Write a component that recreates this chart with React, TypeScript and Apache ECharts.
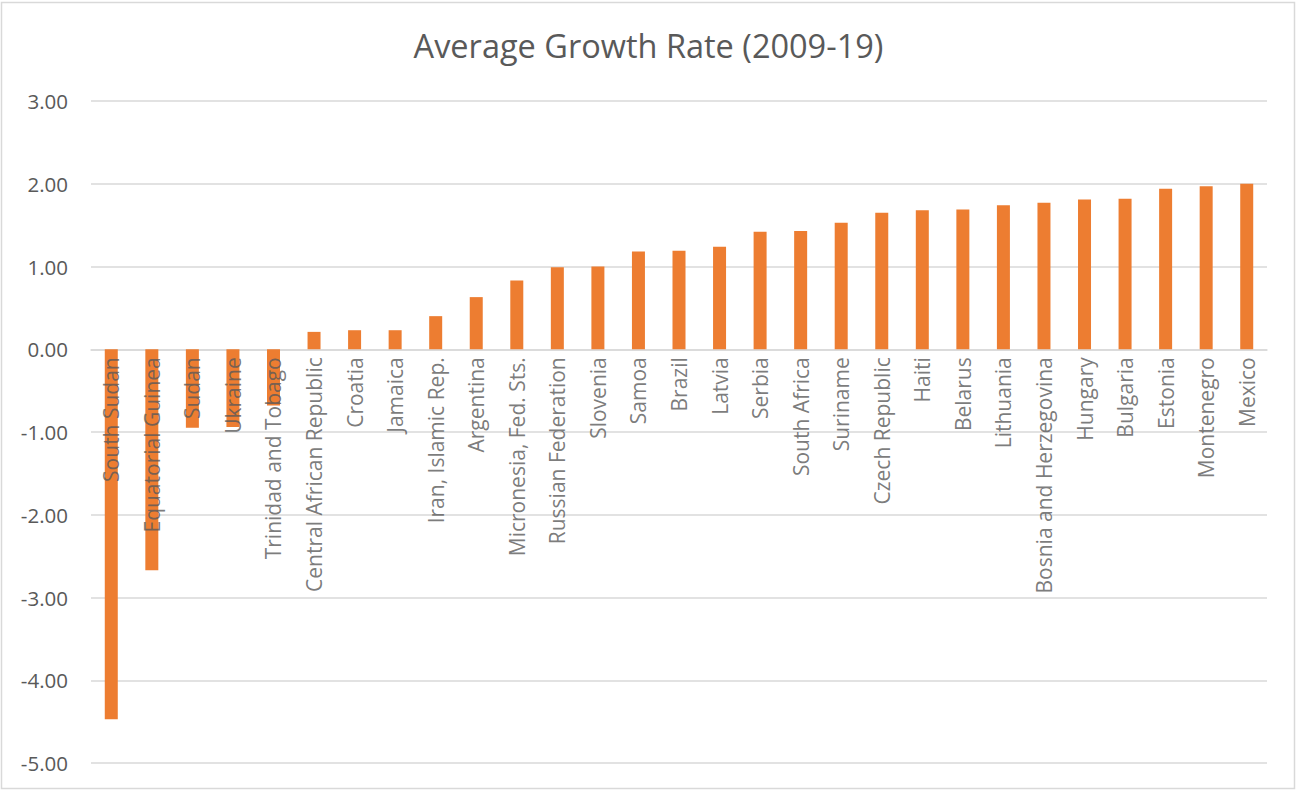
import React, { useEffect, useRef } from "react";
import * as echarts from "echarts";

const titleText = "Average Growth Rate (2009-19)";
const countries = [
  "South Sudan", "Equatorial Guinea", "Sudan", "Ukraine", "Trinidad and Tobago",
  "Central African Republic", "Croatia", "Jamaica", "Iran, Islamic Rep.", "Argentina",
  "Micronesia, Fed. Sts.", "Russian Federation", "Slovenia", "Samoa", "Brazil",
  "Latvia", "Serbia", "South Africa", "Suriname", "Czech Republic",
  "Haiti", "Belarus", "Lithuania", "Bosnia and Herzegovina", "Hungary",
  "Bulgaria", "Estonia", "Montenegro", "Mexico",
];
const growthRates = [
  -4.47, -2.67, -0.95, -0.94, -0.68,
  0.21, 0.23, 0.23, 0.40, 0.63,
  0.83, 0.99, 1.0, 1.18, 1.19,
  1.24, 1.42, 1.43, 1.53, 1.65,
  1.68, 1.69, 1.74, 1.77, 1.81,
  1.82, 1.94, 1.97, 2.0,
];
const yMin = -5;
const yMax = 3;
const yStep = 1;

export default function App() {
  const ref = useRef<HTMLDivElement>(null);
  useEffect(() => {
    if (!ref.current) return;
    const chart = echarts.init(ref.current, undefined, { renderer: "svg" });
    chart.setOption({
      animation: false,
      backgroundColor: "#ffffff",
      title: {
        text: titleText,
        left: "center",
        top: 24,
        textStyle: { fontFamily: "Open Sans", fontSize: 32.5, fontWeight: "normal", color: "#595959" },
      },
      graphic: [
        {
          type: "rect",
          shape: { x: 1.5, y: 2.5, width: 1293, height: 786 },
          style: { fill: "none", stroke: "#d9d9d9", lineWidth: 1.5 },
          silent: true,
        },
      ],
      grid: { left: 91, right: 30, top: 101, bottom: 28, containLabel: false, outerBoundsMode: "none" },
      xAxis: {
        type: "category",
        data: countries,
        axisLine: { onZero: true, lineStyle: { color: "#d9d9d9", width: 1.5 } },
        axisTick: { show: false },
        axisLabel: { show: false },
      },
      yAxis: {
        type: "value",
        min: yMin,
        max: yMax,
        interval: yStep,
        axisLine: { show: false },
        axisTick: { show: false },
        splitLine: { lineStyle: { color: "#d9d9d9", width: 1.5 } },
        axisLabel: {
          margin: 23,
          fontFamily: "Open Sans",
          fontSize: 20.5,
          color: "#595959",
          formatter: (v: number) => v.toFixed(2),
        },
      },
      series: [
        {
          type: "bar",
          data: growthRates,
          barWidth: 13,
          itemStyle: { color: "#ed7d31" },
          z: 2,
        },
        {
          type: "scatter",
          data: countries.map((c) => [c, 0]),
          symbolSize: 0,
          silent: true,
          z: 5,
          label: {
            show: true,
            position: "bottom",
            distance: 8,
            rotate: 90,
            align: "right",
            verticalAlign: "middle",
            fontFamily: "Open Sans",
            fontSize: 21,
            color: "#595959",
            formatter: (p: any) => p.data[0],
          },
        },
      ],
    });
    return () => chart.dispose();
  }, []);
  return <div ref={ref} style={{ position: "fixed", left: 0, top: 0, width: 1297, height: 791 }} />;
}
